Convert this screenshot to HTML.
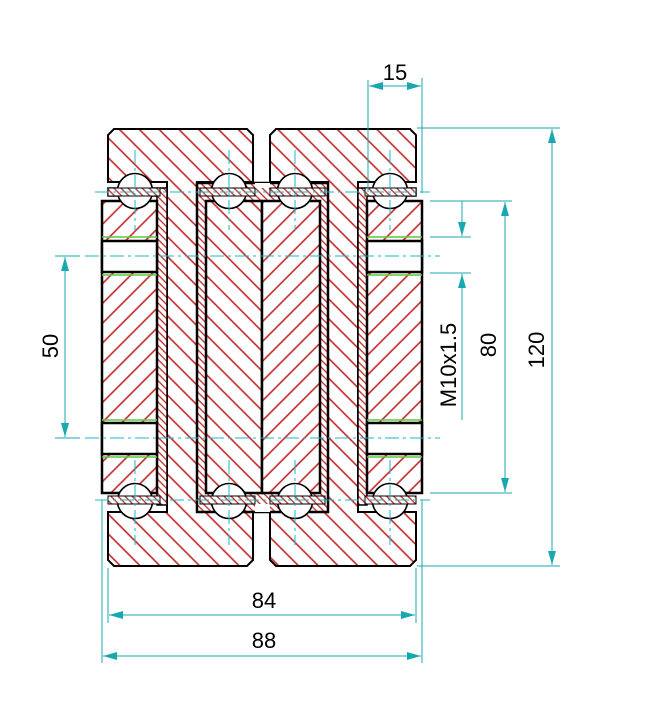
<!DOCTYPE html>
<html><head><meta charset="utf-8"><style>
html,body{margin:0;padding:0;background:#fff;}
svg{display:block;}
text{font-family:"Liberation Sans",sans-serif;font-size:22px;fill:#000;}
</style></head><body>
<svg width="647" height="728" viewBox="0 0 647 728" xmlns="http://www.w3.org/2000/svg">
<defs>
<pattern id="hb" width="14" height="14" patternUnits="userSpaceOnUse" patternTransform="rotate(-45)">
<rect width="14" height="14" fill="#fff"/><line x1="7" y1="0" x2="7" y2="14" stroke="#c02828" stroke-width="1.6"/></pattern>
<pattern id="hf" width="14" height="14" patternUnits="userSpaceOnUse" patternTransform="rotate(45)">
<rect width="14" height="14" fill="#fff"/><line x1="7" y1="0" x2="7" y2="14" stroke="#c02828" stroke-width="1.6"/></pattern>
<pattern id="hd" width="5" height="5" patternUnits="userSpaceOnUse" patternTransform="rotate(-45)">
<rect width="5" height="5" fill="#fff"/><line x1="2.5" y1="0" x2="2.5" y2="5" stroke="#c02828" stroke-width="1.3"/></pattern>
<marker id="ar" markerWidth="14" markerHeight="8" refX="14" refY="4" orient="auto" markerUnits="userSpaceOnUse">
<path d="M0,0 L14,4 L0,8 Z" fill="#1aa8b0"/></marker>
<marker id="al" markerWidth="14" markerHeight="8" refX="0" refY="4" orient="auto" markerUnits="userSpaceOnUse">
<path d="M14,0 L0,4 L14,8 Z" fill="#1aa8b0"/></marker>
</defs>

<path d="M114,129 L247,129 L253,135 L253,182 L197,182 L197,512 L253,512 L253,560 L247,566 L114,566 L108,560 L108,512 L167,512 L167,182 L108,182 L108,135 Z" fill="url(#hb)" stroke="#000" stroke-width="2"/>
<path d="M276,129 L410,129 L416,135 L416,182 L358,182 L358,512 L416,512 L416,560 L410,566 L276,566 L270,560 L270,512 L328,512 L328,182 L270,182 L270,135 Z" fill="url(#hb)" stroke="#000" stroke-width="2"/>

<path d="M108,188 L167,188 L167,505 L157,505 L157,196 L108,196 Z" fill="url(#hd)" stroke="#000" stroke-width="1.5"/>
<path d="M416,188 L358,188 L358,505 L367,505 L367,196 L416,196 Z" fill="url(#hd)" stroke="#000" stroke-width="1.5"/>
<rect x="197" y="183" width="131" height="329" fill="url(#hd)" stroke="#000" stroke-width="2.5"/>
<rect x="255" y="183" width="15" height="5" fill="#fff"/>
<rect x="255" y="504" width="15" height="8" fill="#fff"/>

<rect x="206" y="201" width="56" height="292" fill="url(#hb)" stroke="#000" stroke-width="2.5"/>
<rect x="262" y="201" width="58" height="292" fill="url(#hf)" stroke="#000" stroke-width="2.5"/>

<g stroke="#000" stroke-width="2.5">
<rect x="102" y="201" width="55" height="292" fill="url(#hf)"/>
<rect x="102" y="241" width="55" height="31" fill="#fff"/>
<rect x="102" y="423" width="55" height="31" fill="#fff"/>
<rect x="367" y="201" width="55" height="292" fill="url(#hf)"/>
<rect x="367" y="241" width="55" height="31" fill="#fff"/>
<rect x="367" y="423" width="55" height="31" fill="#fff"/>
</g>
<g stroke="#5cc83c" stroke-width="1.5">
<line x1="102" y1="237" x2="157" y2="237"/><line x1="102" y1="275" x2="157" y2="275"/>
<line x1="102" y1="420" x2="157" y2="420"/><line x1="102" y1="457" x2="157" y2="457"/>
<line x1="367" y1="237" x2="422" y2="237"/><line x1="367" y1="275" x2="422" y2="275"/>
<line x1="367" y1="420" x2="422" y2="420"/><line x1="367" y1="457" x2="422" y2="457"/>
</g>

<g fill="#fff" stroke="#000" stroke-width="1.6">
<circle cx="135" cy="191" r="17.5"/><circle cx="229" cy="191" r="17.5"/>
<circle cx="295" cy="191" r="17.5"/><circle cx="390" cy="191" r="17.5"/>
<circle cx="135" cy="501" r="17.5"/><circle cx="229" cy="501" r="17.5"/>
<circle cx="295" cy="501" r="17.5"/><circle cx="390" cy="501" r="17.5"/>
</g>
<g fill="url(#hd)" stroke="#000" stroke-width="1">
<rect x="108" y="188" width="52" height="8"/><rect x="200" y="188" width="55" height="8"/>
<rect x="270" y="188" width="55" height="8"/><rect x="365" y="188" width="51" height="8"/>
<rect x="108" y="496" width="52" height="8"/><rect x="200" y="496" width="55" height="8"/>
<rect x="270" y="496" width="55" height="8"/><rect x="365" y="496" width="51" height="8"/>
</g>

<g stroke="#1ab8c8" stroke-width="1" stroke-dasharray="14,4,3,4">
<line x1="95" y1="192" x2="430" y2="192"/><line x1="95" y1="500" x2="430" y2="500"/>
<line x1="85" y1="256" x2="440" y2="256"/><line x1="85" y1="438" x2="440" y2="438"/>
<line x1="135" y1="150" x2="135" y2="230"/><line x1="229" y1="150" x2="229" y2="230"/>
<line x1="295" y1="150" x2="295" y2="230"/><line x1="390" y1="150" x2="390" y2="230"/>
<line x1="135" y1="460" x2="135" y2="545"/><line x1="229" y1="460" x2="229" y2="545"/>
<line x1="295" y1="460" x2="295" y2="545"/><line x1="390" y1="460" x2="390" y2="545"/>
</g>

<g stroke="#1aa8b0" stroke-width="1" fill="none">
<line x1="368" y1="80" x2="368" y2="192"/><line x1="422" y1="78" x2="422" y2="193"/>
<line x1="369" y1="86" x2="421" y2="86" marker-start="url(#al)" marker-end="url(#ar)"/>
<line x1="417" y1="128" x2="560" y2="128"/><line x1="417" y1="566" x2="560" y2="566"/>
<line x1="552" y1="129" x2="552" y2="565" marker-start="url(#al)" marker-end="url(#ar)"/>
<line x1="430" y1="201" x2="512" y2="201"/><line x1="430" y1="493" x2="512" y2="493"/>
<line x1="505" y1="202" x2="505" y2="492" marker-start="url(#al)" marker-end="url(#ar)"/>
<line x1="430" y1="237" x2="471" y2="237"/><line x1="430" y1="273" x2="471" y2="273"/>
<line x1="462" y1="201" x2="462" y2="236" marker-end="url(#ar)"/>
<line x1="462" y1="420" x2="462" y2="274" marker-end="url(#ar)"/>
<line x1="55" y1="256" x2="80" y2="256"/><line x1="55" y1="438" x2="80" y2="438"/>
<line x1="65" y1="257" x2="65" y2="437" marker-start="url(#al)" marker-end="url(#ar)"/>
<line x1="108" y1="568" x2="108" y2="623"/><line x1="416" y1="568" x2="416" y2="623"/>
<line x1="102" y1="500" x2="102" y2="663"/><line x1="422" y1="500" x2="422" y2="663"/>
<line x1="109" y1="615" x2="415" y2="615" marker-start="url(#al)" marker-end="url(#ar)"/>
<line x1="103" y1="656" x2="421" y2="656" marker-start="url(#al)" marker-end="url(#ar)"/>
</g>
<text x="395" y="80" text-anchor="middle">15</text>
<text x="264" y="608" text-anchor="middle">84</text>
<text x="264" y="648" text-anchor="middle">88</text>
<text transform="translate(58,346) rotate(-90)" text-anchor="middle">50</text>
<text transform="translate(456,365) rotate(-90)" text-anchor="middle">M10x1.5</text>
<text transform="translate(496,345) rotate(-90)" text-anchor="middle">80</text>
<text transform="translate(544,350) rotate(-90)" text-anchor="middle">120</text>
</svg>
</body></html>
